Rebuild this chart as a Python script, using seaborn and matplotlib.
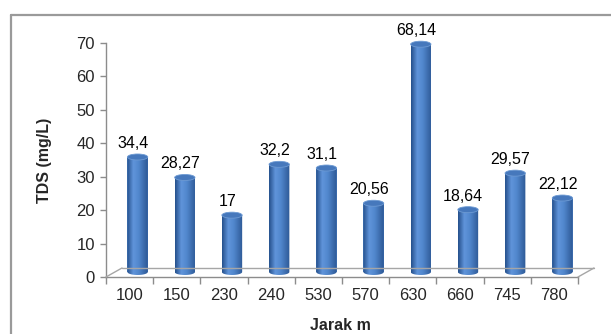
import numpy as np
import pandas as pd
import matplotlib
matplotlib.use("Agg")
import matplotlib.pyplot as plt
import matplotlib.transforms as mtransforms
from matplotlib.patches import Ellipse, PathPatch
from matplotlib.path import Path
from matplotlib.lines import Line2D
from matplotlib.colors import LinearSegmentedColormap
import seaborn as sns

# Distance categories (m) and measured TDS (mg/L)
jarak = ["100", "150", "230", "240", "530", "570", "630", "660", "745", "780"]
tds = [34.4, 28.27, 17, 32.2, 31.1, 20.56, 68.14, 18.64, 29.57, 22.12]
y_ticks = [0, 10, 20, 30, 40, 50, 60, 70]

sns.set_style("white")
plt.rcParams["font.family"] = ["Liberation Sans", "DejaVu Sans"]

DPI = 100
fig = plt.figure(figsize=(6.11, 3.34), dpi=DPI)
ax = fig.add_axes([0.1735, 0.1707, 0.7725, 0.7006])

df = pd.DataFrame({"Jarak": jarak, "TDS": tds})
BAR_W = 0.43
sns.barplot(data=df, x="Jarak", y="TDS", order=jarak, color="#4A7EC2",
            saturation=1, width=BAR_W, ax=ax, zorder=3)

ax.set_xlim(-0.5, len(jarak) - 0.5)
ax.set_ylim(0, 70)

# pseudo-3D depth: bars sit halfway into the floor
off = mtransforms.ScaledTranslation(8 / DPI, 5 / DPI, fig.dpi_scale_trans)
tr = ax.transData + off

px_per_unit = (0.7006 * 334) / 70.0
ell_h = 6 / px_per_unit  # ellipse height in data units

cyl_cmap = LinearSegmentedColormap.from_list(
    "cyl", [(0, "#25508C"), (0.3, "#6094DA"), (0.55, "#5288CE"), (1, "#2D5996")])
grad = np.linspace(0, 1, 64).reshape(1, -1)

for p in ax.patches:
    x0, w, h = p.get_x(), p.get_width(), p.get_height()
    xc = x0 + w / 2
    p.set_transform(tr)
    p.set_clip_on(False)
    p.set_edgecolor("none")
    # outline of the cylinder body with rounded bottom
    t = np.linspace(np.pi, 2 * np.pi, 40)
    arc = np.column_stack([xc + (w / 2) * np.cos(t), (ell_h / 2) * np.sin(t)])
    verts = np.vstack([[x0, h], arc, [x0 + w, h], [x0, h]])
    codes = [Path.MOVETO] + [Path.LINETO] * (len(verts) - 2) + [Path.CLOSEPOLY]
    body = PathPatch(Path(verts, codes), transform=tr, facecolor="none",
                     edgecolor="none")
    ax.add_patch(body)
    body.set_clip_on(False)
    im = ax.imshow(grad, cmap=cyl_cmap, aspect="auto",
                   extent=[x0, x0 + w, -ell_h / 2, h], zorder=4,
                   interpolation="bilinear")
    im.set_transform(tr)
    im.set_clip_path(body)
    cap = Ellipse((xc, h), w, ell_h, transform=tr, facecolor="#4678BC",
                  edgecolor="#6D9AD3", lw=0.6, zorder=5, clip_on=False)
    ax.add_patch(cap)

# value labels
for i, v in enumerate(tds):
    lab = f"{v:g}".replace(".", ",")
    ax.text(i - 0.1, v + ell_h / 2 + 0.9, lab, transform=tr, ha="center",
            va="bottom", fontsize=11.5, color="#000000", zorder=6)

ax.set_xlim(-0.5, len(jarak) - 0.5)
ax.set_ylim(0, 70)

# axes styling
axis_col = "#8C8C8C"
for s in ["top", "right"]:
    ax.spines[s].set_visible(False)
for s in ["left", "bottom"]:
    ax.spines[s].set_color(axis_col)
    ax.spines[s].set_linewidth(1.0)
    ax.spines[s].set_zorder(2)

ax.set_yticks(y_ticks)
ax.tick_params(axis="y", direction="out", length=4, width=1, color=axis_col,
               labelsize=12, pad=4, left=True)
ax.set_xticks(range(len(jarak)))
ax.set_xticklabels(jarak)
ax.set_xticks(np.arange(-0.5, len(jarak)), minor=True)
ax.tick_params(axis="x", which="major", length=0, labelsize=12, pad=8)
ax.tick_params(axis="x", which="minor", direction="out", length=5, width=1,
               color=axis_col, bottom=True)

ax.set_ylabel("TDS (mg/L)", fontsize=11.5, fontweight="bold")
ax.yaxis.set_label_coords(-0.115, 0.5)
ax.set_xlabel("Jarak m", fontsize=11.5, fontweight="bold")
ax.xaxis.set_label_coords(0.496, -0.175)

# floor edges
fig.canvas.draw()
dx, dy = 16, 9
pL = ax.transData.transform((-0.5, 0))
pR = ax.transData.transform((len(jarak) - 0.5, 0))
for xs, ys in [([pL[0], pL[0] + dx], [pL[1], pL[1] + dy]),
               ([pL[0] + dx, pR[0] + dx], [pL[1] + dy, pR[1] + dy]),
               ([pR[0], pR[0] + dx], [pR[1], pR[1] + dy])]:
    fig.add_artist(Line2D(xs, ys, transform=mtransforms.IdentityTransform(),
                          color="#A6A6A6", lw=1.0, zorder=1))

# outer frame of the chart area
fx = 11 / 611
fy = 1 - 15 / 334
fig.add_artist(Line2D([fx, fx], [0, fy], transform=fig.transFigure,
                      color="#9A9A9A", lw=1.6))
fig.add_artist(Line2D([fx, 1], [fy, fy], transform=fig.transFigure,
                      color="#9A9A9A", lw=1.6))

fig.savefig("out.png", dpi=DPI)
